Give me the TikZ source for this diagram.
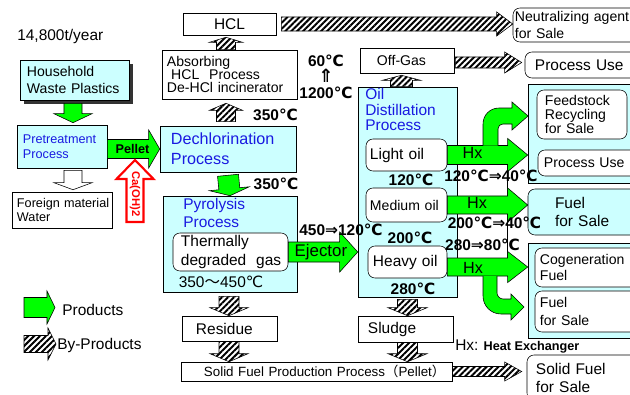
\documentclass[tikz,border=0pt]{standalone}
\usepackage{fontspec}
\setmainfont{Liberation Sans}
\newfontfamily\symf{DejaVu Sans}
\newfontfamily\cjkf{Noto Sans CJK JP}
\usetikzlibrary{calc,patterns.meta,shadows}

\definecolor{procfill}{RGB}{204,255,255}
\definecolor{procblue}{RGB}{25,25,225}
\definecolor{prodgreen}{RGB}{0,255,0}
\definecolor{carred}{RGB}{255,0,0}
\newcommand{\dC}{{\symf ℃}}
\newcommand{\dto}{{\symf ⇒}}

% block arrow between two points: shaft half width / head half width / head length
\tikzset{
    blk/.style args={#1/#2/#3}{to path={
        let \p1 = ($(\tikztotarget)!#3!(\tikztostart)$) in
        ($(\tikztostart)!#1!90:(\tikztotarget)$) -- ($(\p1)!#1!90:(\tikztotarget)$)
        -- ($(\p1)!#2!90:(\tikztotarget)$) -- (\tikztotarget)
        -- ($(\p1)!#2!-90:(\tikztotarget)$) -- ($(\p1)!#1!-90:(\tikztotarget)$)
        -- ($(\tikztostart)!#1!-90:(\tikztotarget)$) -- cycle}}
}

\begin{document}
\begin{tikzpicture}[
        x=0.025cm, y=-0.025cm,
        every node/.style = {inner sep=0pt, font=\fontsize{10}{12}\selectfont},
        proc/.style = {draw, fill=procfill},
        outbox/.style = {draw, fill=white},
        outround/.style = {draw, fill=white, rounded corners=5pt},
        ptitle/.style = {text=procblue, align=left, anchor=north west, font=\fontsize{11}{13}\selectfont},
        temp/.style = {font=\bfseries\fontsize{11}{12}\selectfont},
        hx/.style = {font=\fontsize{11.5}{12}\selectfont},
        prod/.style = {draw=black, fill=prodgreen},
        byprod/.style = {draw=black, pattern={Lines[angle=45, distance=3pt, line width=1.4pt]}}
    ]
    \useasboundingbox (0,0) rectangle (630,394);
    \clip (0,0) rectangle (630,394);

    % Input side
    \node[anchor=west, font=\fontsize{11}{13}\selectfont] (year) at (17,37) {14,800t/year};
    \node[proc, drop shadow={shadow xshift=0.1cm, shadow yshift=-0.1cm, fill=black!80, fill opacity=1},
          minimum height=1cm, text width=2.375cm, inner xsep=0.175cm, align=left] (house) at (74.5,80) {Household\\\mbox{Waste Plastics}};
    \node[proc, text=procblue, minimum height=1.075cm, text width=1.95cm, inner xsep=0.15cm, align=left,
          font=\fontsize{9}{10.7}\selectfont] (pre) at (62,146.5) {Pretreatment\\Process};
    \node[outbox, minimum height=0.9cm, text width=2.25cm, inner xsep=0.125cm, align=left,
          font=\fontsize{9}{10.5}\selectfont] (foreign) at (62,210) {\mbox{Foreign material}\\Water};

    % Dechlorination and pyrolysis
    \node[proc, text=procblue, minimum height=1.15cm, text width=2.85cm, inner xsep=0.275cm, align=left,
          font=\fontsize{11.5}{14}\selectfont] (dechl) at (228,149) {Dechlorination\\Process};
    \node[outbox, minimum height=1.225cm, text width=3.125cm, inner xsep=0.125cm, align=left,
          font=\fontsize{10}{9.5}\selectfont] (absorb) at (229.5,74.5) {Absorbing\\\mbox{\hspace*{3pt}HCL\hspace{7pt}Process}\\\mbox{De-HCl incinerator}};
    \node[outbox, minimum width=2.325cm, minimum height=0.55cm, font=\fontsize{11}{12}\selectfont] (hcl) at (229.5,24) {HCL};
    \node[outround, minimum height=0.85cm, text width=3.025cm, inner xsep=0.05cm, align=left,
          font=\fontsize{10}{11.5}\selectfont] (neut) at (575.5,25) {\mbox{Neutralizing agent}\\for Sale};
    \node[proc, minimum width=3.35cm, minimum height=2.4cm] (pyro) at (230,244) {};
    \node[ptitle] (pyroT) at (183,198) {Pyrolysis\\Process};
    \node[outround, minimum height=0.95cm, text width=2.475cm, inner xsep=0.2cm, align=left,
          font=\fontsize{11}{13.5}\selectfont] (gas) at (230.5,252) {Thermally\\\mbox{degraded\hspace{7pt}gas}};
    \node[font=\fontsize{11}{12}\selectfont] (tpyro) at (221,282) {350{\cjkf 〜}450\dC};
    \node[outbox, minimum height=0.625cm, text width=1.675cm, inner xsep=0.35cm, align=left,
          font=\fontsize{11}{12}\selectfont] (residue) at (229.5,328.5) {Residue};

    % Oil distillation
    \node[outbox, minimum height=0.625cm, text width=1.5cm, inner xsep=0.425cm, align=left] (offgas) at (407,60.5) {Off-Gas};
    \node[outround, minimum height=0.65cm, text width=2.375cm, inner xsep=0.25cm, align=left,
          font=\fontsize{11}{12}\selectfont] (puse1) at (582.5,65) {\mbox{Process Use}};
    \node[proc, minimum width=2.475cm, minimum height=5.25cm] (oil) at (407.5,192) {};
    \node[ptitle, font=\fontsize{11}{11.2}\selectfont] (oilT) at (365,88) {Oil\\Distillation\\Process};
    \node[outround, minimum height=0.8cm, text width=1.825cm, inner xsep=0.1cm, align=left,
          font=\fontsize{11}{12}\selectfont] (light) at (406.5,155) {\mbox{Light oil}};
    \node[outround, minimum height=0.85cm, text width=1.825cm, inner xsep=0.1cm, align=left] (medium) at (406.5,205) {\mbox{Medium oil}};
    \node[outround, minimum height=0.8cm, text width=1.725cm, inner xsep=0.125cm, align=left,
          font=\fontsize{11}{12}\selectfont] (heavy) at (407.5,262) {\mbox{Heavy oil}};
    \node[outbox, minimum height=0.65cm, text width=1.875cm, inner xsep=0.25cm, align=left,
          font=\fontsize{11}{12}\selectfont] (sludge) at (405.5,329) {Sludge};
    \node[outbox, minimum height=0.475cm, text width=5.625cm, inner xsep=0.575cm, align=left,
          font=\fontsize{9.5}{11}\selectfont] (solid) at (316.5,371.5) {\mbox{Solid Fuel Production Process{\cjkf （}Pellet{\cjkf ）}}};

    % Outputs
    \node[proc, minimum width=2.8cm, minimum height=2.475cm] (r1) at (584,133.5) {};
    \node[outround, minimum height=1.225cm, text width=1.85cm, inner xsep=0.2cm, align=left,
          font=\fontsize{10}{10}\selectfont] (feed) at (582,114.5) {Feedstock\\Recycling\\for Sale};
    \node[outround, minimum height=0.65cm, text width=2.25cm, inner xsep=0.15cm, align=left] (puse2) at (589,163) {\mbox{Process Use}};
    \node[proc, rounded corners=5pt, minimum height=1.15cm, text width=1.45cm, inner xsep=0.675cm, align=left,
          font=\fontsize{11}{12.8}\selectfont] (fuel1) at (584,212) {Fuel\\\mbox{for Sale}};
    \node[proc, minimum width=2.8cm, minimum height=2.375cm] (r3) at (584,290.5) {};
    \node[outround, minimum height=0.975cm, text width=2.375cm, inner xsep=0.125cm, align=left,
          font=\fontsize{10}{12}\selectfont] (cogen) at (587.5,267.5) {Cogeneration\\Fuel};
    \node[outround, minimum height=1.025cm, text width=2.375cm, inner xsep=0.125cm, align=left,
          font=\fontsize{10}{12.8}\selectfont] (fuel2) at (587.5,311.5) {Fuel\\for Sale};
    \node[outround, minimum height=1.125cm, text width=2.375cm, inner xsep=0.225cm, align=left,
          font=\fontsize{11}{12.8}\selectfont] (sfs) at (583.5,377.5) {\mbox{Solid Fuel}\\for Sale};
    \node[outbox, line width=0.3pt, minimum width=1.25cm, minimum height=2.5cm] (hxbox) at (482,212) {};

    % Product arrows
    \coordinate (hp1) at ($(house.south)+(-1.5,3)$);
    \coordinate (hp2) at ($(hp1 |- pre.north)+(0,-2)$);
    \path[prod] (hp1) to[blk=0.225cm/0.475cm/0.225cm] (hp2);
    \coordinate (fm1) at ($(hp1 |- pre.south)+(0,2)$);
    \coordinate (fm2) at ($(hp1 |- foreign.north)+(0,-2)$);
    \path[outbox] (fm1) to[blk=0.225cm/0.475cm/0.175cm] (fm2);
    \coordinate (pl1) at (pre.east |- dechl.west);
    \path[prod] (pl1) to[blk=0.2375cm/0.475cm/0.275cm] (dechl.west);
    \node[font=\bfseries\fontsize{9}{10}\selectfont] (pellet) at ($(pl1)!0.5!(dechl.west)+(-1,0)$) {Pellet};
    \coordinate (ca1) at (135,222);
    \coordinate (ca2) at ($(ca1 |- pl1)+(0,11)$);
    \path[draw=carred, line width=1.5pt, fill=white] (ca1) to[blk=0.2125cm/0.4625cm/0.475cm] (ca2);
    \node[rotate=-90, text=carred, font=\bfseries\fontsize{8}{9}\selectfont] (caoh) at (135,194) {Ca(OH)2};
    \coordinate (dp1) at ($(dechl.south)+(0,3)$);
    \path[prod] (dp1) to[blk=0.2625cm/0.5cm/0.175cm] (pyro.north);
    \coordinate (ej) at (gas.east -| oil.west);
    \path[prod] (gas.east) to[blk=0.25cm/0.5cm/0.45cm] (ej);
    \node[font=\fontsize{12}{13}\selectfont] (eject) at ($(gas.east)!0.47!(ej)$) {Ejector};
    \coordinate (lo2) at (light.east -| r1.west);
    \path[prod] (light.east) to[blk=0.2375cm/0.4125cm/0.5cm] (lo2);
    \coordinate (mo2) at (medium.east -| fuel1.west);
    \path[prod] (medium.east) to[blk=0.225cm/0.425cm/0.5cm] (mo2);
    \coordinate (ho1) at ($(heavy.east)+(0,5)$);
    \coordinate (ho2) at (ho1 -| r3.west);
    \path[prod] (ho1) to[blk=0.225cm/0.3875cm/0.5cm] (ho2);
    \filldraw[prod] (483,145.5) -- (483,124) .. controls (483,115) and (490,108) .. (499,108) -- (512,108) -- (512,102)
        -- (528,116) -- (512,130) -- (512,124) -- (503,124) .. controls (500,124) and (498,126) .. (498,129) -- (498,145.5);
    \filldraw[prod] (483,276) -- (483,296) .. controls (483,306) and (491,314) .. (501,314) -- (511,314) -- (511,320)
        -- (524,307) -- (511,294) -- (511,299) -- (503,299) .. controls (500,299) and (497,296) .. (497,293) -- (497,276);

    % By-product arrows
    \coordinate (ab1) at ($(dechl.north)+(-2,-4)$);
    \coordinate (ab2) at ($(ab1 |- absorb.south)+(0,4)$);
    \path[byprod] (ab1) to[blk=0.2375cm/0.4125cm/0.175cm] (ab2);
    \coordinate (hc1) at (ab1 |- absorb.north);
    \coordinate (hc2) at ($(ab1 |- hcl.south)+(0,2)$);
    \path[byprod] (hc1) to[blk=0.2375cm/0.4125cm/0.125cm] (hc2);
    \coordinate (ne1) at ($(hcl.east)+(5,0)$);
    \coordinate (ne2) at (ne1 -| neut.west);
    \path[byprod] (ne1) to[blk=0.175cm/0.3cm/0.4cm] (ne2);
    \coordinate (og1) at ($(oil.north)+(-6,0)$);
    \coordinate (og2) at ($(og1 |- offgas.south)+(0,2)$);
    \path[byprod] (og1) to[blk=0.275cm/0.475cm/0.125cm] (og2);
    \coordinate (pu1) at ($(offgas.east)+(1,2)$);
    \coordinate (pu2) at ($(pu1 -| puse1.west)+(-3,0)$);
    \path[byprod] (pu1) to[blk=0.1375cm/0.2625cm/0.425cm] (pu2);
    \coordinate (rs1) at ($(pyro.south)+(-1,4)$);
    \coordinate (rs2) at (rs1 |- residue.north);
    \path[byprod] (rs1) to[blk=0.25cm/0.475cm/0.2cm] (rs2);
    \coordinate (rs3) at (rs1 |- residue.south);
    \coordinate (rs4) at (rs1 |- solid.north);
    \path[byprod] (rs3) to[blk=0.25cm/0.475cm/0.2cm] (rs4);
    \coordinate (sl1) at ($(oil.south)+(0,2)$);
    \coordinate (sl2) at (sl1 |- sludge.north);
    \path[byprod] (sl1) to[blk=0.25cm/0.4875cm/0.2cm] (sl2);
    \coordinate (sl3) at (sl1 |- sludge.south);
    \coordinate (sl4) at (sl1 |- solid.north);
    \path[byprod] (sl3) to[blk=0.25cm/0.4875cm/0.2cm] (sl4);
    \coordinate (sf2) at ($(solid.east -| sfs.west)+(-5,0)$);
    \path[byprod] (solid.east) to[blk=0.125cm/0.2375cm/0.425cm] (sf2);

    % Temperatures and Hx labels
    \node[temp] (t350a) at (275.5,115) {350\dC};
    \node[temp] (t350b) at (276,184) {350\dC};
    \node[temp, align=center, font=\bfseries\fontsize{11}{11.5}\selectfont] (tgas) at (326,77) {60\dC\\{\symf\fontsize{13}{11.5}\selectfont ⇑}\\1200\dC};
    \node[temp] (tlo) at (411,180) {120\dC};
    \node[temp] (tmo) at (410,238) {200\dC};
    \node[temp] (tho) at (413,289) {280\dC};
    \node[temp] (tlx) at (491,176) {120\dC\dto40\dC};
    \node[temp] (tmx) at (494.5,223) {200\dC\dto40\dC};
    \node[temp] (thx) at (482.5,245) {280\dto80\dC};
    \node[temp] (tej) at (341,230) {450\dto120\dC};
    \node[hx] (hx1) at (472.5,153) {Hx};
    \node[hx] (hx2) at (477,203) {Hx};
    \node[hx] (hx3) at (473,268) {Hx};
    \node[anchor=west] (hxkey) at (455,347) {{\fontsize{11}{12}\selectfont Hx:} {\bfseries\fontsize{9}{10}\selectfont Heat Exchanger}};

    % Legend
    \coordinate (lg1) at (24,307.5);
    \coordinate (lg2) at (55,307.5);
    \path[prod] (lg1) to[blk=0.25cm/0.4125cm/0.2cm] (lg2);
    \node[anchor=west, font=\fontsize{11}{12}\selectfont] (lgP) at (62,310) {Products};
    \coordinate (lg3) at (24,344);
    \coordinate (lg4) at (56,344);
    \path[byprod] (lg3) to[blk=0.2125cm/0.4cm/0.2cm] (lg4);
    \node[anchor=west, font=\fontsize{11}{12}\selectfont] (lgB) at (57,345) {By-Products};

\end{tikzpicture}
\end{document}
